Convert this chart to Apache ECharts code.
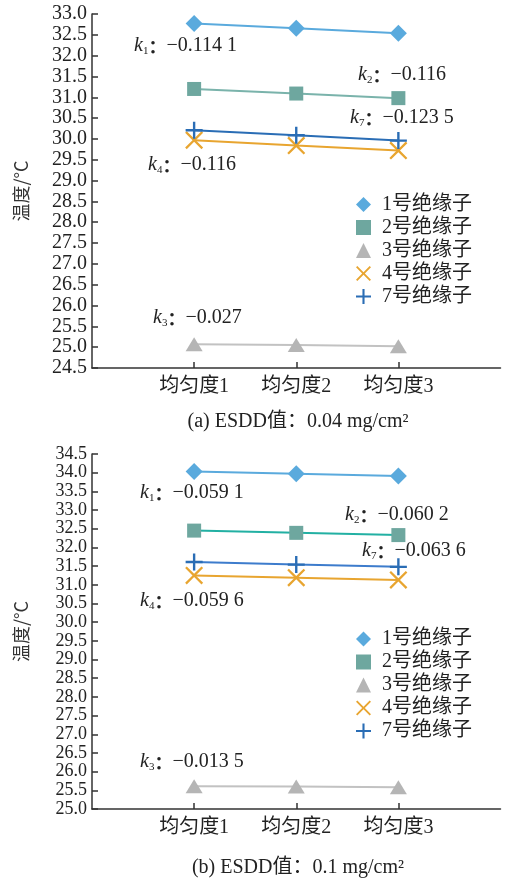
<!DOCTYPE html>
<html><head><meta charset="utf-8">
<script src="https://cdn.jsdelivr.net/npm/echarts@6/dist/echarts.min.js"></script>
<style>html,body{margin:0;padding:0;background:#fff;width:506px;height:880px;overflow:hidden}
#c1,#c2{position:absolute;left:0;width:506px;height:440px}#c1{top:0}#c2{top:440px}</style>
</head><body><div id="c1"></div><div id="c2"></div>
<script>
const categories = ['均匀度1', '均匀度2', '均匀度3'];
const seriesNames = ['1号绝缘子', '2号绝缘子', '3号绝缘子', '4号绝缘子', '7号绝缘子'];
// (a) ESDD 0.04 mg/cm2
const a1 = [32.77, 32.66, 32.54];
const a2 = [31.20, 31.09, 30.98];
const a3 = [25.07, 25.05, 25.02];
const a4 = [29.97, 29.84, 29.72];
const a7 = [30.21, 30.09, 29.96];
const aTicks = {min: 24.5, max: 33.0, interval: 0.5};
const aK = ['−0.114 1', '−0.116', '−0.027', '−0.116', '−0.123 5'];
// (b) ESDD 0.1 mg/cm2
const b1 = [34.03, 33.97, 33.91];
const b2 = [32.45, 32.39, 32.33];
const b3 = [25.61, 25.60, 25.58];
const b4 = [31.25, 31.19, 31.13];
const b7 = [31.61, 31.54, 31.48];
const bTicks = {min: 25.0, max: 34.5, interval: 0.5};
const bK = ['−0.059 1', '−0.060 2', '−0.013 5', '−0.059 6', '−0.063 6'];

const SERIF = '"Liberation Serif","Noto Sans CJK SC",serif';
const XPATH = 'path://M0 9L9 0L50 41L91 0L100 9L59 50L100 91L91 100L50 59L9 100L0 91L41 50Z';
const PPATH = 'path://M43 0H57V43H100V57H57V100H43V57H0V43H43Z';
const symbols = ['diamond', 'rect', 'triangle', XPATH, PPATH];
const sizes = [17, 14, [17, 14], 18, 17];
const markerColors = ['#5aaadd', '#6ea79f', '#b5b5b5', '#e8a530', '#2a6db5'];

function kText(sub, val, x, y) {
  return {type: 'text', left: x, top: y - 12, style: {
    text: '{k|k}{s|' + sub + '}{c|：}{v|' + val + '}',
    rich: {
      k: {fontFamily: SERIF, fontStyle: 'italic', fontSize: 20, fill: '#222'},
      s: {fontFamily: SERIF, fontSize: 11, fill: '#222', verticalAlign: 'bottom', padding: [10, 0, 0, 0]},
      c: {fontFamily: '"Noto Sans CJK SC"', fontSize: 18, fill: '#222', fontWeight: 'bold'},
      v: {fontFamily: SERIF, fontSize: 20, fill: '#222'}
    }}};
}

function build(el, data, ticks, lineColors, kv, kpos, title, gridTop, gridH, legendTop, titleY, tickFont) {
  const chart = echarts.init(document.getElementById(el), null, {renderer: 'canvas'});
  const xData = [''].concat(categories, [' ']);
  const series = data.map((d, i) => ({
    name: seriesNames[i], type: 'line',
    data: d.map((v, j) => [j + 1, v]),
    symbol: symbols[i], symbolSize: sizes[i],
    itemStyle: {color: markerColors[i]},
    lineStyle: {color: lineColors[i], width: 2},
    z: i === 4 ? 3 : 2
  }));
  const subs = ['1', '2', '3', '4', '7'];
  const graphics = kpos.map((p, i) => kText(subs[i], kv[i], p[0], p[1]));
  graphics.push({type: 'text', x: 298, y: titleY - 11, style: {
    text: title, fontFamily: SERIF, fontSize: 20, fill: '#222', align: 'center'}});
  chart.setOption({
    animation: false,
    grid: {left: 92, top: gridTop, height: gridH, right: -2},
    xAxis: {type: 'category', data: xData, boundaryGap: false,
      axisLine: {lineStyle: {color: '#333', width: 1.5}},
      axisTick: {inside: true, length: 6, interval: (i) => i >= 1 && i <= 3, lineStyle: {color: '#333', width: 1.5}},
      axisLabel: {interval: 0, color: '#222', fontSize: 20, fontFamily: SERIF, margin: 9}},
    yAxis: {type: 'value', min: ticks.min, max: ticks.max, interval: ticks.interval,
      name: '温度/°C', nameLocation: 'middle', nameGap: 62, nameRotate: 90,
      nameTextStyle: {fontFamily: '"Noto Sans CJK SC"', fontSize: 18, color: '#333'},
      axisLine: {show: true, lineStyle: {color: '#333', width: 1.5}},
      axisTick: {show: true, inside: true, length: 6, lineStyle: {color: '#333', width: 1.5}},
      splitLine: {show: false},
      axisLabel: {color: '#222', fontSize: tickFont, fontFamily: SERIF, margin: 5,
        hideOverlap: false, formatter: v => v.toFixed(1)}},
    legend: {orient: 'vertical', left: 351, top: legendTop, itemWidth: 15, itemHeight: 15, itemGap: 3,
      data: seriesNames.map((n, i) => ({name: n, icon: symbols[i], itemStyle: {color: markerColors[i]}})),
      textStyle: {fontFamily: SERIF, fontSize: 20, color: '#222', padding: [0, 0, 0, 6]}},
    graphic: graphics,
    series: series
  });
  return chart;
}

build('c1', [a1, a2, a3, a4, a7], aTicks,
  ['#5aaadd', '#7ab3ab', '#c2c2c2', '#e8a530', '#2a6db5'], aK,
  [[134, 48], [358, 77], [153, 320], [148, 167], [350, 120]],
  '(a) ESDD值：0.04 mg/cm²', 14, 354, 189.5, 423, 20);
build('c2', [b1, b2, b3, b4, b7], bTicks,
  ['#5aaadd', '#22b0a3', '#c2c2c2', '#e8a530', '#3d7ccc'], bK,
  [[140, 55], [345, 77], [140, 324], [140, 163], [362, 113]],
  '(b) ESDD值：0.1 mg/cm²', 14, 355, 184, 429, 18);
</script></body></html>
